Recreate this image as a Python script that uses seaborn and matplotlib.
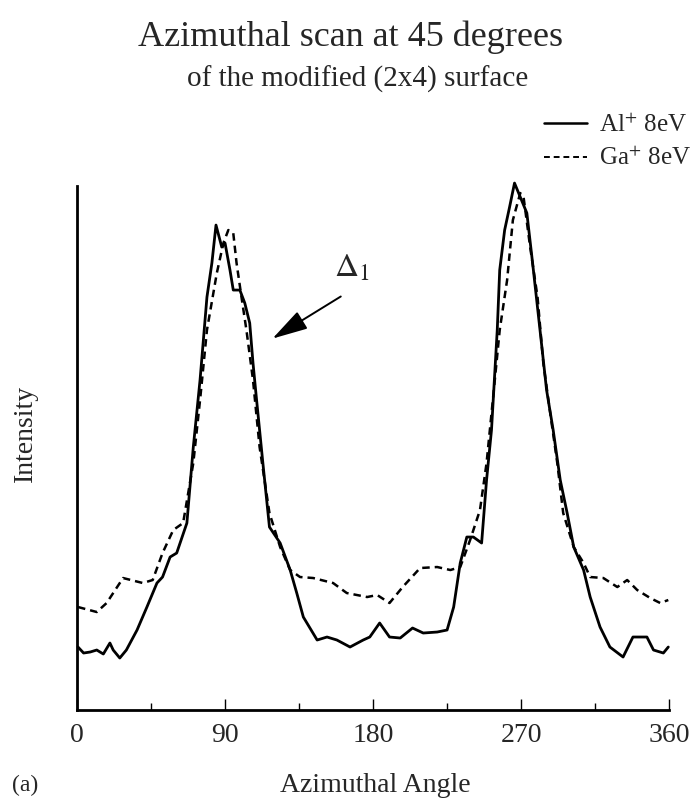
import numpy as np
import pandas as pd
import matplotlib
matplotlib.use("Agg")
import matplotlib.pyplot as plt
from matplotlib.lines import Line2D
import seaborn as sns

# Al+ 8eV (solid) - azimuthal angle (deg) and intensity (arb. units)
al_angle = [0.6, 4, 8, 12, 16, 20, 22, 26, 30, 36.5, 42.5, 48.6, 52, 56.6, 60.6, 66.8,
            70.7, 74.8, 79, 82, 84.5, 88, 90, 93, 95, 99, 102, 105, 107, 109, 113, 117,
            123.5, 129.6, 133.6, 137.6, 146, 152, 158, 166, 174, 178, 184, 190, 196.5,
            204, 210.5, 219, 225, 229, 233, 237, 241, 246, 249, 252, 255.5, 257, 260,
            263, 266, 269.5, 273.5, 277, 281.5, 285.5, 289.5, 293.8, 298, 302, 308, 312,
            318, 324, 332, 338, 346.5, 350.5, 356.5, 359.5]
al_int = [63, 57, 58, 60, 56, 67, 60, 52, 60, 80, 103, 127, 133, 153, 157, 187,
          263, 330, 413, 447, 485, 463, 467, 440, 420, 420, 407, 387, 347, 313, 247, 183,
          167, 140, 117, 93, 70, 73, 70, 63, 70, 73, 87, 73, 72,
          82, 77, 78, 80, 103, 147, 173, 173, 167, 230, 280, 380, 440, 480,
          503, 527, 513, 497, 447, 380, 320, 280, 230, 197, 163, 140, 113,
          83, 63, 53, 73, 73, 60, 57, 63]

# Ga+ 8eV (dashed)
ga_angle = [0.6, 12, 18, 28, 40, 46, 52, 58.5, 64.5, 70.7, 75, 79, 85, 89, 92, 95, 97,
            100, 103, 107, 111, 117, 123.5, 129.6, 135.6, 143.6, 155.7, 164, 176.4,
            182.5, 190, 198, 208.6, 219, 227, 233, 239, 245, 249, 253, 257, 261.5, 265,
            269.5, 271.5, 275.5, 280, 283.5, 287.7, 292, 295.6, 302, 308, 312, 320,
            328.5, 334.5, 340.6, 348.5, 354.6, 359.5]
ga_int = [103, 98, 107, 132, 127, 130, 157, 180, 187, 247, 313, 380, 437, 467, 480, 477, 447,
          413, 380, 330, 263, 197, 163, 140, 133, 132, 127, 117, 113,
          115, 107, 123, 142, 143, 140, 143, 170, 200, 247, 313, 380, 430, 490,
          517, 513, 463, 413, 347, 297, 247, 197, 163, 147, 133, 132,
          123, 130, 120, 112, 107, 110]

x_ticks = [0, 90, 180, 270, 360]
x_minor = [45, 135, 225, 315]

df = pd.concat([
    pd.DataFrame({"angle": al_angle, "intensity": al_int, "ion": "Al"}),
    pd.DataFrame({"angle": ga_angle, "intensity": ga_int, "ion": "Ga"}),
])

sns.set_style("white")
plt.rcParams["font.family"] = ["Liberation Serif", "DejaVu Serif"]
plt.rcParams["mathtext.fontset"] = "stix"

fig = plt.figure(figsize=(6.97, 8.02), dpi=100)
ax = fig.add_axes([0.1105, 0.1147, 0.8495, 0.6533])

sns.lineplot(data=df, x="angle", y="intensity", style="ion", color="black",
             dashes={"Al": "", "Ga": (3, 2)}, sort=False, legend=False, ax=ax,
             estimator=None)
for ln, lw in zip(ax.lines, [2.0, 1.8]):
    ln.set_linewidth(lw)
    ln.set_clip_on(False)

ax.set_xlim(0, 360)
ax.set_ylim(0, 524)
ax.set_yticks([])
ax.set_xticks(x_ticks)
ax.set_xticks(x_minor, minor=True)
ax.tick_params(axis="x", which="major", direction="in", length=8, width=1,
               labelsize=20, pad=9, color="black", bottom=True)
ax.tick_params(axis="x", which="minor", direction="in", length=5, width=1,
               color="black", bottom=True)
sns.despine(ax=ax, top=True, right=True)
for s in ["left", "bottom"]:
    ax.spines[s].set_color("black")
    ax.spines[s].set_linewidth(2)

ax.set_xlabel("")
ax.set_ylabel("")
fig.text(0.036, 0.459, "Intensity", rotation=90, ha="center", va="center", fontsize=20)
fig.text(0.538, 0.021, "Azimuthal Angle", ha="center", va="center", fontsize=20)
fig.text(0.036, 0.021, "(a)", ha="center", va="center", fontsize=17)

fig.text(0.503, 0.953, "Azimuthal scan at 45 degrees", ha="center", va="center", fontsize=26)
fig.text(0.513, 0.901, "of the modified (2x4) surface", ha="center", va="center", fontsize=21)

ax.annotate(r"$\Delta_1$", xy=(117.4, 370), xytext=(167, 442), fontsize=24,
            ha="center", va="center")
ax.annotate("", xy=(117.4, 370), xytext=(161.8, 415),
            arrowprops=dict(arrowstyle="-|>,head_length=1.0,head_width=0.28",
                            color="black", lw=1.4, mutation_scale=22))

handles = [Line2D([], [], color="black", lw=1.8),
           Line2D([], [], color="black", lw=1.4, dashes=(3, 2))]
fig.legend(handles, [r"Al$^{+}$ 8eV", r"Ga$^{+}$ 8eV"], loc="upper right",
           bbox_to_anchor=(0.992, 0.858), frameon=False, fontsize=18,
           handlelength=1.7, handletextpad=0.5, labelspacing=0.4,
           borderpad=0, borderaxespad=0)

fig.savefig("out.png", dpi=100)
